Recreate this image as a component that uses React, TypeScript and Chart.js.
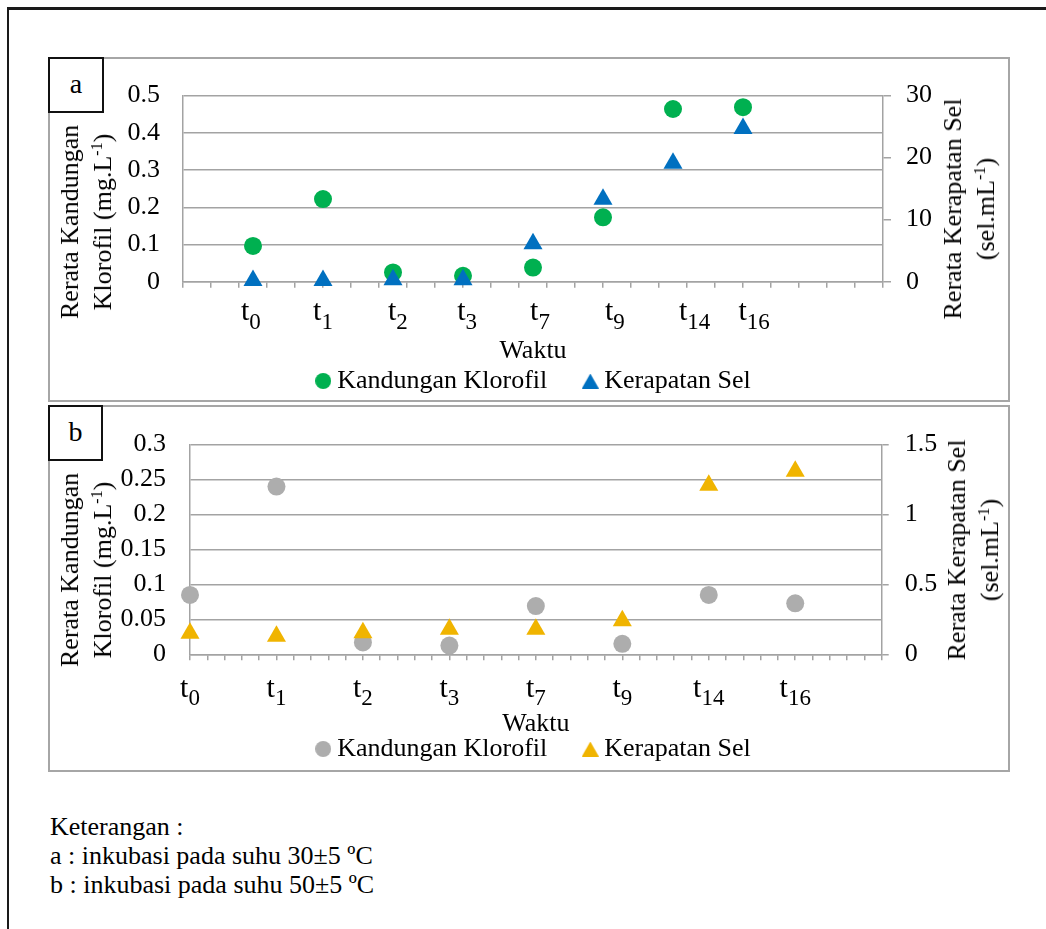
import React, { useEffect, useRef } from 'react';
import { Chart, registerables } from 'chart.js';

Chart.register(...registerables);

const FONT = '"Liberation Serif", "Times New Roman", serif';

// ---------- data ----------
const timeLabels = ['t0', 't1', 't2', 't3', 't7', 't9', 't14', 't16'];
const xPosA = [1, 2, 3, 4, 5, 6, 7, 8];
const xPosB = [0, 1, 2, 3, 4, 5, 6, 7];
// where the time labels sit along the x axis (axis units)
const labelPosA = [0.97, 2.0, 3.07, 4.06, 5.1, 6.17, 7.31, 8.16];
const labelPosB = [0, 1, 2, 3, 4, 5, 6, 7];
const klorofilA = [0.096, 0.222, 0.025, 0.016, 0.038, 0.173, 0.464, 0.469];
const kerapatanA = [0.2, 0.2, 0.3, 0.3, 6.1, 13.3, 19.1, 24.7];
const klorofilB = [0.085, 0.24, 0.017, 0.0125, 0.069, 0.015, 0.085, 0.073];
const kerapatanB = [0.15, 0.13, 0.155, 0.18, 0.18, 0.24, 1.21, 1.31];
const leftTicksA = [0, 0.1, 0.2, 0.3, 0.4, 0.5];
const rightTicksA = [0, 10, 20, 30];
const leftTicksB = [0, 0.05, 0.1, 0.15, 0.2, 0.25, 0.3];
const rightTicksB = [0, 0.5, 1, 1.5];
const seriesNames = ['Kandungan Klorofil', 'Kerapatan Sel'];
const xTitle = 'Waktu';
const leftTitle = ['Rerata Kandungan', 'Klorofil (mg.L', '-1', ')'];
const rightTitle = ['Rerata Kerapatan Sel', '(sel.mL', '-1', ')'];
const captionLines = [
  'Keterangan :',
  'a : inkubasi pada suhu 30±5 ºC',
  'b : inkubasi pada suhu 50±5 ºC',
];

const GRID = '#a3a3a3';

const subLabelPlugin = {
  id: 'subLabels',
  afterDraw(chart: any, _args: any, opts: any) {
    const ctx = chart.ctx;
    const xs = chart.scales.x;
    ctx.save();
    ctx.fillStyle = '#000';
    ctx.textBaseline = 'alphabetic';
    ctx.textAlign = 'left';
    opts.labels.forEach((lab: string, i: number) => {
      const main = lab.slice(0, 1);
      const sub = lab.slice(1);
      ctx.font = `${opts.mainSize}px ${FONT}`;
      const w1 = ctx.measureText(main).width;
      ctx.font = `${opts.subSize}px ${FONT}`;
      const w2 = ctx.measureText(sub).width;
      const px = xs.getPixelForValue(opts.values[i]);
      const sx = px - (w1 + w2) / 2;
      ctx.font = `${opts.mainSize}px ${FONT}`;
      ctx.fillText(main, sx, opts.mainBase);
      ctx.font = `${opts.subSize}px ${FONT}`;
      ctx.fillText(sub, sx + w1, opts.subBase);
    });
    ctx.restore();
  },
};

function markerImage(style: string, color: string, w: number, h: number) {
  const c = document.createElement('canvas');
  c.width = w;
  c.height = h;
  const g = c.getContext('2d') as CanvasRenderingContext2D;
  g.fillStyle = color;
  g.beginPath();
  if (style === 'circle') {
    g.arc(w / 2, h / 2, Math.min(w, h) / 2, 0, Math.PI * 2);
  } else {
    g.moveTo(w / 2, 0);
    g.lineTo(w, h);
    g.lineTo(0, h);
    g.closePath();
  }
  g.fill();
  return c;
}

type Panel = {
  w: number;
  h: number;
  padTop: number;
  padLeft: number;
  yW: number;
  y1W: number;
  xH: number;
  xMax: number;
  xStep: number;
  xs: number[];
  labelPos: number[];
  left: number[];
  right: number[];
  leftTicks: number[];
  rightTicks: number[];
  colors: string[];
  leftPad: number;
  rightPad: number;
  rightTickLen: number;
  mainBase: number;
  subBase: number;
  titlePad: number;
};

function makeConfig(p: Panel): any {
  const leftMax = p.leftTicks[p.leftTicks.length - 1];
  const rightMax = p.rightTicks[p.rightTicks.length - 1];
  const legendMarks = [
    markerImage('circle', p.colors[0], 16, 16),
    markerImage('triangle', p.colors[1], 17, 15),
  ];
  return {
    type: 'scatter',
    data: {
      datasets: [
        {
          label: seriesNames[0],
          data: p.xs.map((x, i) => ({ x, y: p.left[i] })),
          yAxisID: 'y',
          pointStyle: 'circle',
          pointRadius: 9,
          pointBorderWidth: 0,
          backgroundColor: p.colors[0],
          borderColor: p.colors[0],
          clip: false,
          order: 2,
        },
        {
          label: seriesNames[1],
          data: p.xs.map((x, i) => ({ x, y: p.right[i] })),
          yAxisID: 'y1',
          pointStyle: 'triangle',
          pointRadius: 11,
          pointBorderWidth: 0,
          backgroundColor: p.colors[1],
          borderColor: p.colors[1],
          clip: false,
          order: 1,
        },
      ],
    },
    options: {
      responsive: false,
      animation: false,
      devicePixelRatio: 1,
      layout: { padding: { top: p.padTop, left: p.padLeft, right: 0, bottom: 0 } },
      font: { family: FONT, size: 26 },
      scales: {
        x: {
          type: 'linear',
          position: 'bottom',
          min: 0,
          max: p.xMax,
          afterFit: (s: any) => {
            s.height = p.xH;
          },
          ticks: { display: false, stepSize: p.xStep, autoSkip: false },
          grid: {
            drawOnChartArea: false,
            drawTicks: true,
            tickLength: 6,
            color: GRID,
            lineWidth: 1.5,
          },
          border: { display: true, color: GRID, width: 1.5 },
          title: {
            display: true,
            text: xTitle,
            color: '#000',
            font: { family: FONT, size: 26, lineHeight: 1 },
            padding: { top: 0, bottom: p.titlePad },
          },
        },
        y: {
          type: 'linear',
          position: 'left',
          min: 0,
          max: leftMax,
          afterFit: (s: any) => {
            s.width = p.yW;
          },
          afterBuildTicks: (s: any) => {
            s.ticks = p.leftTicks.map((v) => ({ value: v }));
          },
          ticks: {
            color: '#000',
            font: { family: FONT, size: 26 },
            padding: p.leftPad,
            callback: (v: number) => String(v),
          },
          grid: { color: GRID, lineWidth: 1.5, drawTicks: false },
          border: { display: true, color: GRID, width: 1.5 },
        },
        y1: {
          type: 'linear',
          position: 'right',
          min: 0,
          max: rightMax,
          afterFit: (s: any) => {
            s.width = p.y1W;
          },
          afterBuildTicks: (s: any) => {
            s.ticks = p.rightTicks.map((v) => ({ value: v }));
          },
          ticks: {
            color: '#000',
            font: { family: FONT, size: 26 },
            padding: p.rightPad,
            callback: (v: number) => String(v),
          },
          grid: {
            drawOnChartArea: false,
            drawTicks: true,
            tickLength: p.rightTickLen,
            color: GRID,
            lineWidth: 1.5,
          },
          border: { display: true, color: GRID, width: 1.5 },
        },
      },
      plugins: {
        tooltip: { enabled: false },
        legend: {
          display: true,
          position: 'bottom',
          labels: {
            usePointStyle: true,
            boxWidth: 2,
            boxHeight: 11,
            padding: 42,
            color: '#000',
            font: { family: FONT, size: 26 },
            sort: (a: any, b: any) => a.datasetIndex - b.datasetIndex,
            generateLabels: (chart: any) => {
              const items = Chart.defaults.plugins.legend.labels.generateLabels(chart);
              items.forEach((it: any) => {
                it.pointStyle = legendMarks[it.datasetIndex];
              });
              return items;
            },
          },
        },
        subLabels: {
          labels: timeLabels,
          values: p.labelPos,
          mainSize: 30,
          subSize: 23,
          mainBase: p.mainBase,
          subBase: p.subBase,
        },
      },
    },
    plugins: [subLabelPlugin],
  };
}

const panelA: Panel = {
  w: 962,
  h: 347,
  padTop: 28,
  padLeft: 15,
  yW: 120,
  y1W: 127,
  xH: 44.3,
  xMax: 10,
  xStep: 0.4,
  xs: xPosA,
  labelPos: labelPosA,
  left: klorofilA,
  right: kerapatanA,
  leftTicks: leftTicksA,
  rightTicks: rightTicksA,
  colors: ['#00b050', '#0070c0'],
  leftPad: 23,
  rightPad: 15,
  rightTickLen: 8,
  mainBase: 263,
  subBase: 272,
  titlePad: -38,
};

const panelB: Panel = {
  w: 962,
  h: 367,
  padTop: 26.7,
  padLeft: 15,
  yW: 127,
  y1W: 128.3,
  xH: 39.7,
  xMax: 8,
  xStep: 0.2,
  xs: xPosB,
  labelPos: labelPosB,
  left: klorofilB,
  right: kerapatanB,
  leftTicks: leftTicksB,
  rightTicks: rightTicksB,
  colors: ['#adadad', '#f0b400'],
  leftPad: 24,
  rightPad: 16,
  rightTickLen: 7,
  mainBase: 291.7,
  subBase: 300,
  titlePad: -43,
};

function ChartCanvas({ panel, left, top }: { panel: Panel; left: number; top: number }) {
  const ref = useRef<HTMLCanvasElement | null>(null);
  useEffect(() => {
    if (!ref.current) return;
    const chart = new Chart(ref.current, makeConfig(panel));
    return () => chart.destroy();
  }, [panel]);
  return (
    <canvas
      ref={ref}
      width={panel.w}
      height={panel.h}
      style={{ position: 'absolute', left, top, width: panel.w, height: panel.h }}
    />
  );
}

function RotTitle({ cx, cy, parts }: { cx: number; cy: number; parts: string[] }) {
  return (
    <div
      style={{
        position: 'absolute',
        left: cx,
        top: cy,
        transform: 'translate(-50%, -50%) rotate(-90deg)',
        whiteSpace: 'nowrap',
        textAlign: 'center',
        fontFamily: FONT,
        fontSize: 26,
        lineHeight: '33px',
        color: '#000',
      }}
    >
      <div>{parts[0]}</div>
      <div>
        {parts[1]}
        <sup style={{ fontSize: '0.62em', lineHeight: 0, verticalAlign: '0.55em' }}>{parts[2]}</sup>
        {parts[3]}
      </div>
    </div>
  );
}

function LabelBox({ x, y, w, h, text }: { x: number; y: number; w: number; h: number; text: string }) {
  return (
    <div
      style={{
        position: 'absolute',
        left: x,
        top: y,
        width: w,
        height: h,
        boxSizing: 'border-box',
        border: '2px solid #111',
        background: '#fff',
        fontFamily: FONT,
        fontSize: 28,
        lineHeight: `${h - 6}px`,
        textAlign: 'center',
        color: '#000',
      }}
    >
      {text}
    </div>
  );
}

export default function App() {
  return (
    <div
      style={{
        position: 'absolute',
        left: 0,
        top: 0,
        width: 1046,
        height: 929,
        background: '#fff',
        overflow: 'hidden',
        fontFamily: FONT,
      }}
    >
      <div
        style={{
          position: 'absolute',
          left: 7,
          top: 7,
          width: 1100,
          height: 1000,
          borderTop: '3px solid #1a1a1a',
          borderLeft: '2.5px solid #1a1a1a',
        }}
      />
      <ChartCanvas panel={panelA} left={48} top={57} />
      <ChartCanvas panel={panelB} left={48} top={405} />
      <div
        style={{
          position: 'absolute',
          left: 48,
          top: 57,
          width: 962,
          height: 345,
          boxSizing: 'border-box',
          border: '2px solid #a6a6a6',
        }}
      />
      <div
        style={{
          position: 'absolute',
          left: 48,
          top: 405,
          width: 962,
          height: 367,
          boxSizing: 'border-box',
          border: '2px solid #a6a6a6',
        }}
      />
      <LabelBox x={48} y={57} w={56} h={56} text="a" />
      <LabelBox x={48} y={405} w={55} h={56} text="b" />
      <RotTitle cx={86} cy={222} parts={leftTitle} />
      <RotTitle cx={969} cy={209} parts={rightTitle} />
      <RotTitle cx={86} cy={570} parts={leftTitle} />
      <RotTitle cx={973} cy={550} parts={rightTitle} />
      <div
        style={{
          position: 'absolute',
          left: 50,
          top: 811.7,
          fontFamily: FONT,
          fontSize: 26,
          lineHeight: '29px',
          color: '#000',
          whiteSpace: 'nowrap',
        }}
      >
        {captionLines.map((l) => (
          <div key={l}>{l}</div>
        ))}
      </div>
    </div>
  );
}
